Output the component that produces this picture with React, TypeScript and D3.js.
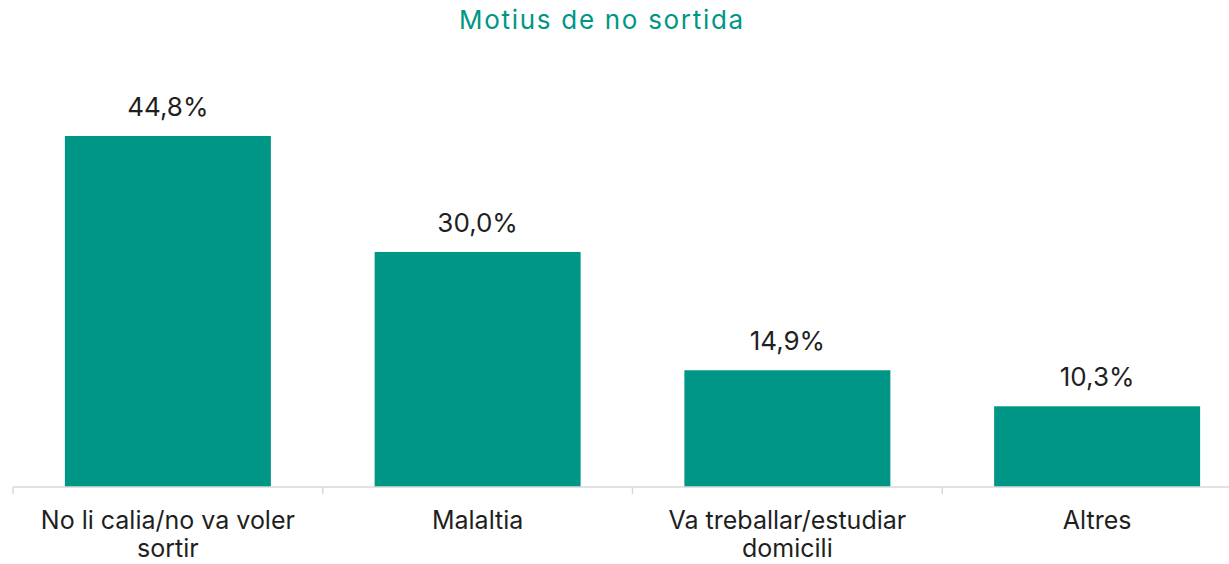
import React, { useEffect, useRef } from "react";
import * as d3 from "d3";

const categories = [
  "No li calia/no va voler sortir",
  "Malaltia",
  "Va treballar/estudiar domicili",
  "Altres",
];
const values = [44.8, 30.0, 14.9, 10.3];
const title = "Motius de no sortida";

const WIDTH = 1229;
const HEIGHT = 564;
const TEAL = "#009685";
const FONT = "Inter, 'Noto Sans', sans-serif";

function wrap(sel: d3.Selection<SVGTextElement, string, any, any>, maxWidth: number) {
  sel.each(function () {
    const text = d3.select(this);
    const words = text.text().split(/\s+/);
    const x = text.attr("x");
    text.text(null);
    let line: string[] = [];
    let tspan = text.append("tspan").attr("x", x).attr("dy", 0);
    for (const w of words) {
      line.push(w);
      tspan.text(line.join(" "));
      if ((tspan.node() as SVGTSpanElement).getComputedTextLength() > maxWidth && line.length > 1) {
        line.pop();
        tspan.text(line.join(" "));
        line = [w];
        tspan = text.append("tspan").attr("x", x).attr("dy", 28).text(w);
      }
    }
  });
}

export default function App() {
  const ref = useRef<SVGSVGElement>(null);

  useEffect(() => {
    const svg = d3.select(ref.current);
    svg.selectAll("*").remove();

    const axisY = 487;
    const x = d3
      .scaleBand<string>()
      .domain(categories)
      .range([13, 1252])
      .paddingInner(0.335)
      .paddingOuter(0.1675);

    const y = d3.scaleLinear().domain([0, 44.8]).range([axisY, 136]);

    // title
    svg
      .append("text")
      .attr("x", 602)
      .attr("y", 29)
      .attr("text-anchor", "middle")
      .style("font-family", FONT)
      .style("font-size", "26px")
      .style("letter-spacing", "1.7px")
      .attr("fill", TEAL)
      .text(title);

    // bars
    svg
      .selectAll("rect.bar")
      .data(values)
      .enter()
      .append("rect")
      .attr("class", "bar")
      .attr("x", (d, i) => x(categories[i])!)
      .attr("y", (d) => y(d))
      .attr("width", x.bandwidth())
      .attr("height", (d) => axisY - y(d))
      .attr("fill", TEAL);

    // value labels
    svg
      .selectAll("text.val")
      .data(values)
      .enter()
      .append("text")
      .attr("class", "val")
      .attr("x", (d, i) => x(categories[i])! + x.bandwidth() / 2)
      .attr("y", (d) => y(d) - 20)
      .attr("text-anchor", "middle")
      .style("font-family", FONT)
      .style("font-size", "26px")
      .attr("fill", "#1f1f1f")
      .text((d) => d.toFixed(1).replace(".", ",") + "%");

    // axis
    const step = x.step();
    const boundaries = d3.range(categories.length + 1).map((i) => 13 + i * step);
    svg
      .append("line")
      .attr("x1", 13)
      .attr("x2", 1252)
      .attr("y1", axisY)
      .attr("y2", axisY)
      .attr("stroke", "#d9d9d9")
      .attr("stroke-width", 1.5);
    svg
      .selectAll("line.tick")
      .data(boundaries)
      .enter()
      .append("line")
      .attr("class", "tick")
      .attr("x1", (d) => d)
      .attr("x2", (d) => d)
      .attr("y1", axisY)
      .attr("y2", axisY + 7)
      .attr("stroke", "#d9d9d9")
      .attr("stroke-width", 1.5);

    // category labels
    svg
      .selectAll("text.cat")
      .data(categories)
      .enter()
      .append("text")
      .attr("class", "cat")
      .attr("x", (d) => x(d)! + x.bandwidth() / 2)
      .attr("y", 529)
      .attr("text-anchor", "middle")
      .style("font-family", FONT)
      .style("font-size", "25px")
      .attr("fill", "#1f1f1f")
      .text((d) => d)
      .call(wrap as any, 280);
  }, []);

  return (
    <svg
      ref={ref}
      width={WIDTH}
      height={HEIGHT}
      style={{ position: "absolute", left: 0, top: 0, background: "#fff" }}
    />
  );
}
